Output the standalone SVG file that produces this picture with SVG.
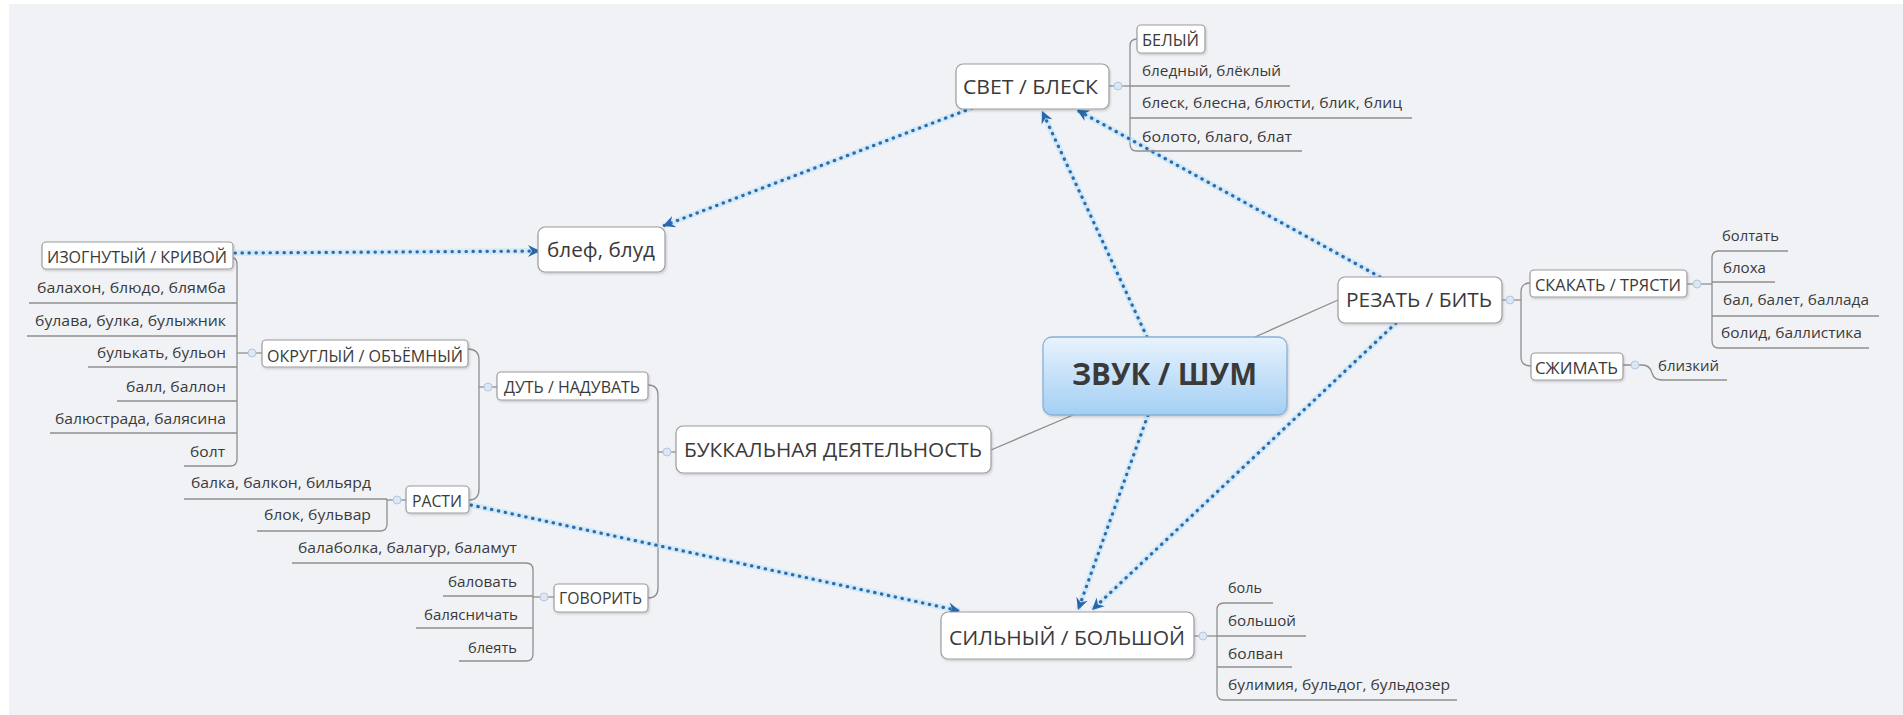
<svg xmlns="http://www.w3.org/2000/svg" width="1903" height="715" viewBox="0 0 1903 715">
  <style>
    .box { fill: #ffffff; stroke: #9c9c9c; stroke-width: 1.2; filter: url(#sh); }
    .t { font-family: "Open Sans", "Noto Sans", "DejaVu Sans", sans-serif; fill: #3a3a3a; }
    .big { font-size: 20px; }
    .mid { font-size: 16px; }
    .sm { font-size: 15px; }
    .ln { fill: none; stroke: #8e8e8e; stroke-width: 1.3; }
    .ul { fill: none; stroke: #8e8e8e; stroke-width: 1.3; }
    .dot { fill: #dbe7f4; stroke: #b3c8e0; stroke-width: 1; }
    .glow { fill: none; stroke: #b9e2f8; stroke-width: 6; stroke-opacity: 0.55; }
    .rel { fill: none; stroke: #2c6cae; stroke-width: 3.2; stroke-linecap: round; stroke-dasharray: 0.4 6.6; }
  </style>
  <defs>
    <filter id="sh" x="-10%" y="-20%" width="120%" height="150%">
      <feDropShadow dx="1" dy="1.5" stdDeviation="1" flood-color="#000000" flood-opacity="0.16"/>
    </filter>
    <linearGradient id="cg" x1="0" y1="0" x2="0" y2="1">
      <stop offset="0" stop-color="#e8f3fd"/>
      <stop offset="1" stop-color="#a3cff4"/>
    </linearGradient>
    <marker id="ah" viewBox="0 0 14 14" refX="13" refY="7" markerWidth="14" markerHeight="14" markerUnits="userSpaceOnUse" orient="auto">
      <path d="M1,1 L13,7 L1,13 L5,7 Z" fill="#2a67a8"/>
    </marker>
  </defs>

  <!-- canvas -->
  <rect x="0" y="0" width="1903" height="715" fill="#ffffff"/>
  <rect x="9" y="4" width="1894" height="711" fill="#f1f2f6"/>

  <!-- branch lines and relationship arrows -->
  <g id="connectors">
    <!-- centre to main topics -->
    <path class="ln" d="M991,450 L1073,415"/>
    <path class="ln" d="M1255,337 L1338,300"/>

    <!-- СВЕТ / БЛЕСК branch -->
    <path class="ln" d="M1109,86 H1130"/>
    <path class="ln" d="M1137,39 Q1130,39 1130,46 L1130,144 Q1130,151 1137,151"/>
    <circle class="dot" cx="1118" cy="86" r="4"/>

    <!-- ОКРУГЛЫЙ / ОБЪЁМНЫЙ branch -->
    <path class="ln" d="M262,353 H237"/>
    <path class="ln" d="M233,258 Q237,258 237,265 L237,459 Q237,466 230,466"/>
    <circle class="dot" cx="252" cy="353" r="4"/>

    <!-- ДУТЬ / НАДУВАТЬ branch -->
    <path class="ln" d="M497,387 H479"/>
    <path class="ln" d="M468,349 Q479,349 479,360 L479,489 Q479,500 469,500"/>
    <circle class="dot" cx="488" cy="387" r="4"/>

    <!-- РАСТИ branch -->
    <path class="ln" d="M406,500 H387"/>
    <path class="ln" d="M387,499 L387,524 Q387,531 380,531"/>
    <circle class="dot" cx="397" cy="500" r="4"/>

    <!-- БУККАЛЬНАЯ ДЕЯТЕЛЬНОСТЬ branch -->
    <path class="ln" d="M676,452 H658"/>
    <path class="ln" d="M648,385 Q658,385 658,395 L658,588 Q658,598 648,598"/>
    <circle class="dot" cx="667" cy="452" r="4"/>

    <!-- ГОВОРИТЬ branch -->
    <path class="ln" d="M554,597 H533"/>
    <path class="ln" d="M526,563 Q533,563 533,570 L533,654 Q533,661 526,661"/>
    <circle class="dot" cx="544" cy="597" r="4"/>

    <!-- РЕЗАТЬ / БИТЬ branch -->
    <path class="ln" d="M1502,300 H1521"/>
    <path class="ln" d="M1530,283 Q1521,283 1521,292 L1521,357 Q1521,366 1531,366"/>
    <circle class="dot" cx="1510" cy="300" r="4"/>

    <!-- СКАКАТЬ / ТРЯСТИ branch -->
    <path class="ln" d="M1687,284 H1712"/>
    <path class="ln" d="M1719,251 Q1712,251 1712,258 L1712,341 Q1712,348 1719,348"/>
    <circle class="dot" cx="1697" cy="284" r="4"/>

    <!-- СЖИМАТЬ branch -->
    <path class="ln" d="M1623,365 L1642,365 Q1650,365 1652,373 Q1654,380 1662,380"/>
    <circle class="dot" cx="1635" cy="365" r="4"/>

    <!-- СИЛЬНЫЙ / БОЛЬШОЙ branch -->
    <path class="ln" d="M1194,636 H1217"/>
    <path class="ln" d="M1224,603 Q1217,603 1217,610 L1217,693 Q1217,700 1224,700"/>
    <circle class="dot" cx="1203" cy="636" r="4"/>

    <!-- relationships -->
    <g id="relations">
      <path class="glow" d="M235,253 L540,251"/>
      <path class="rel" d="M235,253 L540,251" marker-end="url(#ah)"/>
      <path class="glow" d="M972,108 L663,226"/>
      <path class="rel" d="M972,108 L663,226" marker-end="url(#ah)"/>
      <path class="glow" d="M1147,337 L1042,111"/>
      <path class="rel" d="M1147,337 L1042,111" marker-end="url(#ah)"/>
      <path class="glow" d="M1380,277 L1077,110"/>
      <path class="rel" d="M1380,277 L1077,110" marker-end="url(#ah)"/>
      <path class="glow" d="M1148,415 L1078,610"/>
      <path class="rel" d="M1148,415 L1078,610" marker-end="url(#ah)"/>
      <path class="glow" d="M1396,323 L1092,610"/>
      <path class="rel" d="M1396,323 L1092,610" marker-end="url(#ah)"/>
      <path class="glow" d="M471,505 L960,611"/>
      <path class="rel" d="M471,505 L960,611" marker-end="url(#ah)"/>
    </g>
  </g>

  <!-- central topic -->
  <g id="center">
    <rect x="1043" y="337" width="244" height="78" rx="9" fill="url(#cg)" stroke="#88b0d6" stroke-width="1.3" filter="url(#sh)"/>
    <text x="1072" y="385" class="t" font-size="30" font-weight="bold" fill="#2e3d4e" textLength="185" lengthAdjust="spacingAndGlyphs">ЗВУК / ШУМ</text>
  </g>

  <!-- СВЕТ / БЛЕСК -->
  <g id="svet">
    <rect class="box" x="956" y="64" width="153" height="45" rx="7"/>
    <text x="963" y="94" class="t big" textLength="135" lengthAdjust="spacingAndGlyphs">СВЕТ / БЛЕСК</text>
  </g>
  <g id="svet-1">
    <rect class="box" x="1137" y="25" width="68" height="28" rx="4"/>
    <text x="1142" y="46" class="t mid" textLength="57" lengthAdjust="spacingAndGlyphs">БЕЛЫЙ</text>
  </g>
  <g id="svet-2">
    <text x="1142" y="76" class="t sm" textLength="139" lengthAdjust="spacingAndGlyphs">бледный, блёклый</text>
    <path class="ul" d="M1130,86 H1290"/>
  </g>
  <g id="svet-3">
    <text x="1142" y="108" class="t sm" textLength="260" lengthAdjust="spacingAndGlyphs">блеск, блесна, блюсти, блик, блиц</text>
    <path class="ul" d="M1130,118 H1412"/>
  </g>
  <g id="svet-4">
    <text x="1142" y="142" class="t sm" textLength="150" lengthAdjust="spacingAndGlyphs">болото, благо, блат</text>
    <path class="ul" d="M1137,151 H1302"/>
  </g>

  <!-- блеф, блуд -->
  <g id="blef">
    <rect class="box" x="538" y="227" width="127" height="45" rx="7"/>
    <text x="547" y="257" class="t big" textLength="108" lengthAdjust="spacingAndGlyphs">блеф, блуд</text>
  </g>

  <!-- ОКРУГЛЫЙ / ОБЪЁМНЫЙ and its items -->
  <g id="okrugly">
    <rect class="box" x="262" y="340" width="206" height="27" rx="4"/>
    <text x="267" y="362" class="t mid" textLength="196" lengthAdjust="spacingAndGlyphs">ОКРУГЛЫЙ / ОБЪЁМНЫЙ</text>
  </g>
  <g id="izognuty">
    <rect class="box" x="42" y="242" width="191" height="27" rx="4"/>
    <text x="47" y="263" class="t mid" textLength="180" lengthAdjust="spacingAndGlyphs">ИЗОГНУТЫЙ / КРИВОЙ</text>
  </g>
  <g id="ok-1">
    <text x="226" y="293" text-anchor="end" class="t sm" textLength="189" lengthAdjust="spacingAndGlyphs">балахон, блюдо, блямба</text>
    <path class="ul" d="M29,303 H237"/>
  </g>
  <g id="ok-2">
    <text x="226" y="326" text-anchor="end" class="t sm" textLength="191" lengthAdjust="spacingAndGlyphs">булава, булка, булыжник</text>
    <path class="ul" d="M27,336 H237"/>
  </g>
  <g id="ok-3">
    <text x="226" y="358" text-anchor="end" class="t sm" textLength="129" lengthAdjust="spacingAndGlyphs">булькать, бульон</text>
    <path class="ul" d="M88,367 H237"/>
  </g>
  <g id="ok-4">
    <text x="226" y="392" text-anchor="end" class="t sm" textLength="100" lengthAdjust="spacingAndGlyphs">балл, баллон</text>
    <path class="ul" d="M117,401 H237"/>
  </g>
  <g id="ok-5">
    <text x="226" y="424" text-anchor="end" class="t sm" textLength="171" lengthAdjust="spacingAndGlyphs">балюстрада, балясина</text>
    <path class="ul" d="M50,433 H237"/>
  </g>
  <g id="ok-6">
    <text x="225" y="457" text-anchor="end" class="t sm" textLength="35" lengthAdjust="spacingAndGlyphs">болт</text>
    <path class="ul" d="M184,466 H230"/>
  </g>

  <!-- ДУТЬ / НАДУВАТЬ -->
  <g id="dut">
    <rect class="box" x="497" y="372" width="151" height="28" rx="4"/>
    <text x="504" y="393" class="t mid" textLength="136" lengthAdjust="spacingAndGlyphs">ДУТЬ / НАДУВАТЬ</text>
  </g>

  <!-- РАСТИ and its items -->
  <g id="rasti">
    <rect class="box" x="406" y="486" width="63" height="27" rx="4"/>
    <text x="412" y="507" class="t mid" textLength="50" lengthAdjust="spacingAndGlyphs">РАСТИ</text>
  </g>
  <g id="rasti-1">
    <text x="371" y="488" text-anchor="end" class="t sm" textLength="180" lengthAdjust="spacingAndGlyphs">балка, балкон, бильярд</text>
    <path class="ul" d="M184,499 H387"/>
  </g>
  <g id="rasti-2">
    <text x="371" y="520" text-anchor="end" class="t sm" textLength="107" lengthAdjust="spacingAndGlyphs">блок, бульвар</text>
    <path class="ul" d="M257,531 H380"/>
  </g>

  <!-- БУККАЛЬНАЯ ДЕЯТЕЛЬНОСТЬ -->
  <g id="bukk">
    <rect class="box" x="676" y="426" width="315" height="47" rx="7"/>
    <text x="684" y="457" class="t big" textLength="298" lengthAdjust="spacingAndGlyphs">БУККАЛЬНАЯ ДЕЯТЕЛЬНОСТЬ</text>
  </g>

  <!-- ГОВОРИТЬ and its items -->
  <g id="govorit">
    <rect class="box" x="554" y="584" width="94" height="28" rx="4"/>
    <text x="559" y="604" class="t mid" textLength="83" lengthAdjust="spacingAndGlyphs">ГОВОРИТЬ</text>
  </g>
  <g id="gov-1">
    <text x="517" y="553" text-anchor="end" class="t sm" textLength="219" lengthAdjust="spacingAndGlyphs">балаболка, балагур, баламут</text>
    <path class="ul" d="M292,563 H526"/>
  </g>
  <g id="gov-2">
    <text x="517" y="587" text-anchor="end" class="t sm" textLength="69" lengthAdjust="spacingAndGlyphs">баловать</text>
    <path class="ul" d="M443,596 H533"/>
  </g>
  <g id="gov-3">
    <text x="518" y="620" text-anchor="end" class="t sm" textLength="94" lengthAdjust="spacingAndGlyphs">балясничать</text>
    <path class="ul" d="M416,628 H533"/>
  </g>
  <g id="gov-4">
    <text x="517" y="653" text-anchor="end" class="t sm" textLength="49" lengthAdjust="spacingAndGlyphs">блеять</text>
    <path class="ul" d="M459,661 H526"/>
  </g>

  <!-- РЕЗАТЬ / БИТЬ -->
  <g id="rezat">
    <rect class="box" x="1338" y="277" width="164" height="46" rx="7"/>
    <text x="1346" y="307" class="t big" textLength="146" lengthAdjust="spacingAndGlyphs">РЕЗАТЬ / БИТЬ</text>
  </g>
  <g id="skakat">
    <rect class="box" x="1530" y="270" width="157" height="27" rx="4"/>
    <text x="1535" y="291" class="t mid" textLength="146" lengthAdjust="spacingAndGlyphs">СКАКАТЬ / ТРЯСТИ</text>
  </g>
  <g id="sk-1">
    <text x="1722" y="241" class="t sm" textLength="57" lengthAdjust="spacingAndGlyphs">болтать</text>
    <path class="ul" d="M1719,251 H1788"/>
  </g>
  <g id="sk-2">
    <text x="1723" y="273" class="t sm" textLength="43" lengthAdjust="spacingAndGlyphs">блоха</text>
    <path class="ul" d="M1712,282 H1775"/>
  </g>
  <g id="sk-3">
    <text x="1723" y="305" class="t sm" textLength="146" lengthAdjust="spacingAndGlyphs">бал, балет, баллада</text>
    <path class="ul" d="M1712,316 H1879"/>
  </g>
  <g id="sk-4">
    <text x="1721" y="338" class="t sm" textLength="141" lengthAdjust="spacingAndGlyphs">болид, баллистика</text>
    <path class="ul" d="M1719,348 H1869"/>
  </g>
  <g id="szhimat">
    <rect class="box" x="1531" y="353" width="92" height="27" rx="4"/>
    <text x="1535" y="374" class="t mid" textLength="83" lengthAdjust="spacingAndGlyphs">СЖИМАТЬ</text>
  </g>
  <g id="sz-1">
    <text x="1658" y="371" class="t sm" textLength="61" lengthAdjust="spacingAndGlyphs">близкий</text>
    <path class="ul" d="M1662,380 H1727"/>
  </g>

  <!-- СИЛЬНЫЙ / БОЛЬШОЙ -->
  <g id="silny">
    <rect class="box" x="941" y="612" width="253" height="47" rx="7"/>
    <text x="949" y="645" class="t big" textLength="236" lengthAdjust="spacingAndGlyphs">СИЛЬНЫЙ / БОЛЬШОЙ</text>
  </g>
  <g id="sil-1">
    <text x="1228" y="593" class="t sm" textLength="34" lengthAdjust="spacingAndGlyphs">боль</text>
    <path class="ul" d="M1224,603 H1273"/>
  </g>
  <g id="sil-2">
    <text x="1228" y="626" class="t sm" textLength="68" lengthAdjust="spacingAndGlyphs">большой</text>
    <path class="ul" d="M1217,636 H1306"/>
  </g>
  <g id="sil-3">
    <text x="1228" y="659" class="t sm" textLength="55" lengthAdjust="spacingAndGlyphs">болван</text>
    <path class="ul" d="M1217,667 H1292"/>
  </g>
  <g id="sil-4">
    <text x="1228" y="690" class="t sm" textLength="222" lengthAdjust="spacingAndGlyphs">булимия, бульдог, бульдозер</text>
    <path class="ul" d="M1224,700 H1457"/>
  </g>
</svg>
